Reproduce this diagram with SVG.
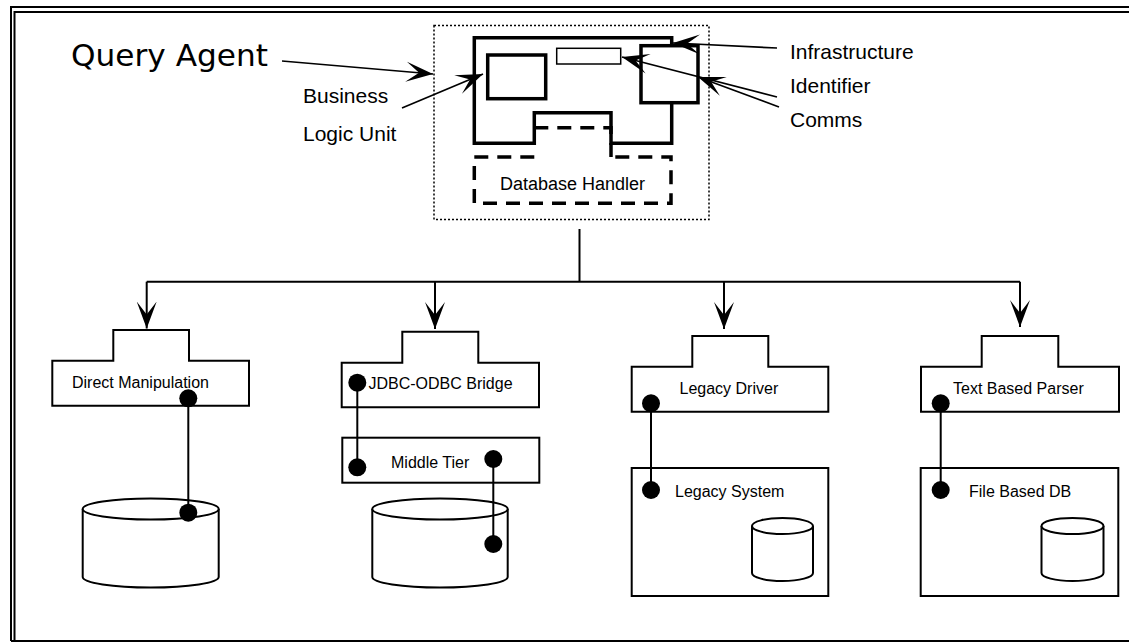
<svg xmlns="http://www.w3.org/2000/svg" width="1129" height="643" viewBox="0 0 1129 643">
  <defs>
    <style>
      .lbl { font-family: "Liberation Sans", Arial, sans-serif; fill: #000; }
      .big { font-family: "DejaVu Sans", Verdana, sans-serif; font-size: 30px; fill: #000; }
      .side { font-size: 21px; }
      .node { font-size: 16px; }
      .box { fill: #fff; stroke: #000; stroke-width: 2; }
      .thick { fill: #fff; stroke: #000; stroke-width: 3.5; }
      .wire { fill: none; stroke: #000; stroke-width: 2; }
      .dot { fill: #000; }
      .cyl { fill: #fff; stroke: #000; stroke-width: 2; }
    </style>
    <marker id="arr" markerUnits="userSpaceOnUse" viewBox="-27 -11 28 22" refX="0" refY="0" markerWidth="28" markerHeight="22" orient="auto">
      <path d="M0,0 L-27,-10 L-14,0 L-27,10 Z" fill="#000"/>
    </marker>
  </defs>

  <rect width="1129" height="643" fill="#fff"/>

  <!-- page frame: double rule on top and left, single rule at the foot -->
  <g id="frame" fill="none" stroke="#000">
    <path d="M11,641 V7 H1129" stroke-width="2"/>
    <path d="M14.5,641 V12 H1129" stroke-width="2"/>
    <path d="M11,641 H1129" stroke-width="2"/>
  </g>

  <!-- query agent with its internal parts -->
  <g id="query-agent">
    <rect x="434" y="25.5" width="275" height="194" fill="none" stroke="#000" stroke-width="1.5" stroke-dasharray="2 2"/>
    <path class="thick" d="M534.3,143.3 H474.3 V37.7 H671.7 V143.3 H611 V112.7 H534.3 Z"/>
    <rect id="business-logic-unit" class="thick" x="487.7" y="55" width="58" height="43.7"/>
    <rect id="identifier" x="556.7" y="48.3" width="64" height="15.7" fill="#fff" stroke="#000" stroke-width="1.5"/>
    <rect id="comms" class="thick" x="641" y="45.7" width="57" height="57"/>
    <g id="database-handler">
      <path d="M534.3,157 H474.3 V203.3 H671 V157 H611 M534.3,127.7 H611 V157" fill="none" stroke="#000" stroke-width="3.5" stroke-dasharray="14 9"/>
      <text class="lbl" x="572.5" y="190" font-size="18" text-anchor="middle">Database Handler</text>
    </g>
    <text class="big" x="71" y="66" textLength="197" lengthAdjust="spacingAndGlyphs">Query Agent</text>
    <text class="lbl side" x="303" y="103">Business</text>
    <text class="lbl side" x="303" y="141">Logic Unit</text>
    <text class="lbl side" x="790" y="59">Infrastructure</text>
    <text class="lbl side" x="790" y="93">Identifier</text>
    <text class="lbl side" x="790" y="127">Comms</text>
  </g>

  <!-- access strategy nodes -->
  <g id="direct-manipulation">
    <path class="box" d="M52.3,360.7 H113.3 V330 H189 V360.7 H249 V405.7 H52.3 Z"/>
    <text class="lbl node" x="72" y="387.5">Direct Manipulation</text>
  </g>
  <g id="database-1">
    <path class="cyl" d="M82.7,509 V577 A68,10.5 0 0 0 218.7,577 V509"/>
    <ellipse class="cyl" cx="150.7" cy="509" rx="68" ry="10.5"/>
  </g>

  <g id="jdbc-odbc-bridge">
    <path class="box" d="M341.7,362.7 H402.3 V331.7 H478.3 V362.7 H539 V407.3 H341.7 Z"/>
    <text class="lbl node" x="368.5" y="388.5">JDBC-ODBC Bridge</text>
  </g>
  <g id="middle-tier">
    <rect class="box" x="342.3" y="437.7" width="197" height="45"/>
    <text class="lbl node" x="391" y="468">Middle Tier</text>
  </g>
  <g id="database-2">
    <path class="cyl" d="M372.3,509 V577 A67.7,10.5 0 0 0 507.7,577 V509"/>
    <ellipse class="cyl" cx="440" cy="509" rx="67.7" ry="10.5"/>
  </g>

  <g id="legacy-driver">
    <path class="box" d="M631.7,366.7 H692.3 V336 H768.3 V366.7 H828.3 V411.7 H631.7 Z"/>
    <text class="lbl node" x="679.5" y="393.5">Legacy Driver</text>
  </g>
  <g id="legacy-system">
    <rect class="box" x="631.7" y="468" width="196.6" height="128"/>
    <text class="lbl node" x="675" y="496.5">Legacy System</text>
    <path class="cyl" d="M752,526 V573 A30.5,8 0 0 0 813,573 V526"/>
    <ellipse class="cyl" cx="782.5" cy="526" rx="30.5" ry="8"/>
  </g>

  <g id="text-based-parser">
    <path class="box" d="M921,366.7 H981.7 V336 H1058.3 V366.7 H1119 V411.7 H921 Z"/>
    <text class="lbl node" x="953" y="393.5">Text Based Parser</text>
  </g>
  <g id="file-based-db">
    <rect class="box" x="920.7" y="468" width="197.6" height="128"/>
    <text class="lbl node" x="969" y="496.5">File Based DB</text>
    <path class="cyl" d="M1041.5,526 V573 A31,8 0 0 0 1103.5,573 V526"/>
    <ellipse class="cyl" cx="1072.5" cy="526" rx="31" ry="8"/>
  </g>

  <!-- connectors -->
  <g id="connectors" fill="none" stroke="#000" stroke-width="1.7">
    <!-- callouts on the agent -->
    <line x1="282" y1="61" x2="433" y2="74" marker-end="url(#arr)"/>
    <line x1="402" y1="108" x2="483" y2="74" marker-end="url(#arr)"/>
    <line x1="777" y1="48" x2="673" y2="43" marker-end="url(#arr)"/>
    <line x1="777" y1="97" x2="622" y2="57" marker-end="url(#arr)"/>
    <line x1="779" y1="107" x2="698" y2="77" marker-end="url(#arr)"/>

    <!-- fan-out from the agent to the strategies -->
    <g stroke-width="2">
      <line x1="579.5" y1="229" x2="579.5" y2="281.7"/>
      <line x1="146.7" y1="281.7" x2="1020" y2="281.7"/>
      <line x1="146.7" y1="281.7" x2="146.7" y2="328.5" marker-end="url(#arr)"/>
      <line x1="435" y1="281.7" x2="435" y2="329" marker-end="url(#arr)"/>
      <line x1="724" y1="281.7" x2="724" y2="329" marker-end="url(#arr)"/>
      <line x1="1020" y1="281.7" x2="1020" y2="327" marker-end="url(#arr)"/>
    </g>

    <!-- internal links, ends marked with dots -->
    <g stroke-width="2">
      <line x1="188.3" y1="398.3" x2="188.3" y2="512.7"/>
      <line x1="357.3" y1="382.7" x2="357.3" y2="467.3"/>
      <line x1="493.3" y1="459" x2="493.3" y2="544"/>
      <line x1="651" y1="403.3" x2="651" y2="490"/>
      <line x1="940.7" y1="403.3" x2="940.7" y2="490"/>
    </g>
    <g class="dot" stroke="none">
      <circle cx="188.3" cy="398.3" r="9"/>
      <circle cx="188.3" cy="512.7" r="9"/>
      <circle cx="357.3" cy="382.7" r="9"/>
      <circle cx="357.3" cy="467.3" r="9"/>
      <circle cx="493.3" cy="459" r="9"/>
      <circle cx="493.3" cy="544" r="9"/>
      <circle cx="651" cy="403.3" r="9"/>
      <circle cx="651" cy="490" r="9"/>
      <circle cx="940.7" cy="403.3" r="9"/>
      <circle cx="940.7" cy="490" r="9"/>
    </g>
  </g>
</svg>
